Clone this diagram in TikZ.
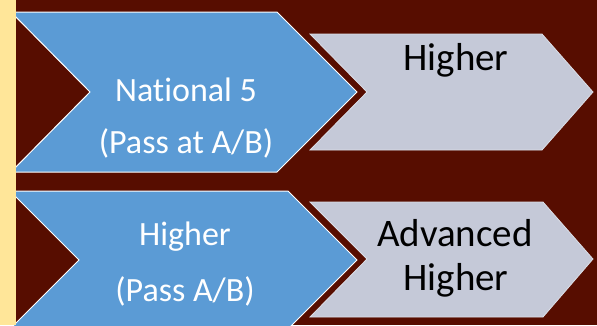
\documentclass[tikz,border=0pt]{standalone}
\usepackage{fontspec}
\setmainfont{Carlito}[Ligatures=NoCommon]
\definecolor{bgred}{RGB}{87,13,0}
\definecolor{chblue}{RGB}{91,155,213}
\definecolor{chgrey}{RGB}{197,201,216}
\definecolor{stripyellow}{RGB}{255,230,153}
\tikzset{
  bluechev/.style={fill=chblue, draw=white, line width=1pt, line join=miter},
  greychev/.style={fill=chgrey, draw=chgrey!60!white, line width=0.8pt, line join=miter},
  wtext/.style={text=white, inner sep=0pt, anchor=base, font=\fontsize{34}{40}\selectfont},
  ktext/.style={text=black, inner sep=0pt, anchor=base, font=\fontsize{39}{45}\selectfont}
}
\begin{document}
\begin{tikzpicture}[x=1pt,y=-1pt]
\useasboundingbox (0,0) rectangle (597,325);
\fill[bgred] (0,0) rectangle (597,325);
% row 1
\path[bluechev] (11,12) -- (277,12) -- (357,92) -- (277,172) -- (11,172) -- (90,92) -- cycle;
\path[greychev] (310,34) -- (542,34) -- (593,92) -- (542,150) -- (310,150) -- (367,92) -- cycle;
% row 2
\path[bluechev] (10,191) -- (288,191) -- (357,260) -- (288,329) -- (10,329) -- (79,260) -- cycle;
\path[greychev] (310,202) -- (543,202) -- (593,259) -- (543,317) -- (310,317) -- (367,259) -- cycle;
% left strip
\fill[stripyellow] (0,0) rectangle (16,325);
% texts
\node[wtext] (n5) at (186,101.7) {National 5};
\node[wtext] (n5p) at (186,153) {(Pass at A/B)};
\node[ktext] (h1) at (456,70) {Higher};
\node[wtext] (h2) at (185,245) {Higher};
\node[wtext] (h2p) at (185,301.7) {(Pass A/B)};
\node[ktext] (ah1) at (455,246.7) {Advanced};
\node[ktext] (ah2) at (456,290) {Higher};
\end{tikzpicture}
\end{document}
